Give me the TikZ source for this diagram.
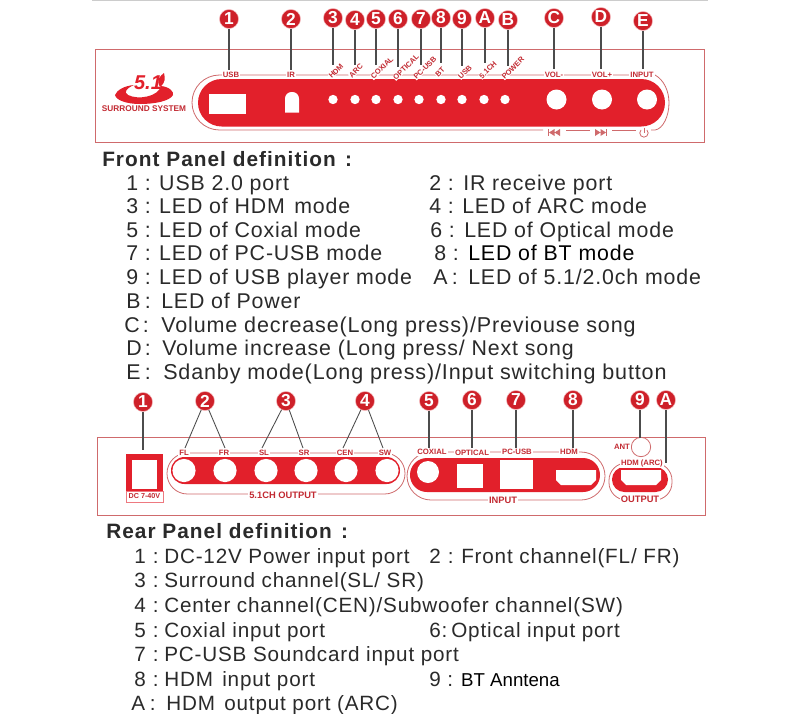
\documentclass[tikz,border=0pt]{standalone}
\usepackage{fontspec}
\setmainfont{Liberation Sans}[LetterSpace=4]
\newfontfamily\tight{Liberation Sans}
\newfontfamily\headf{Liberation Sans}[LetterSpace=5]
\definecolor{pred}{HTML}{E2202B}
\definecolor{bred}{HTML}{CE2029}
\definecolor{dred}{HTML}{C22A32}
\definecolor{lred}{HTML}{CF6A6C}
\definecolor{ttxt}{HTML}{2A2A2A}
\tikzset{
 x=0.75pt,y=-0.75pt,
 badge/.style={circle,fill=bred,draw=pred!30,line width=0.4pt,minimum size=14.3pt,inner sep=0pt,text=white,font=\tight\bfseries\fontsize{13}{13}\selectfont},
 lead/.style={draw=black!70,line width=0.8pt},
 frameline/.style={draw=lred,line width=0.6pt},
 plate/.style={fill=pred,draw=none},
 hole/.style={fill=white,draw=none},
 lab/.style={text=dred,font=\tight\bfseries\fontsize{5.8}{6}\selectfont,inner sep=0.8pt,fill=white},
 rlab/.style={lab,rotate=45,inner sep=0.2pt,font=\tight\bfseries\fontsize{5.6}{5}\selectfont},
 blab/.style={lab,inner sep=1.2pt,font=\tight\bfseries\fontsize{7}{7}\selectfont},
 body/.style={anchor=base west,inner sep=0pt,text=ttxt,font=\fontsize{16}{16}\selectfont},
 heading/.style={anchor=base west,inner sep=0pt,text=ttxt,font=\headf\bfseries\fontsize{15.6}{16}\selectfont},
 led/.style={circle,fill=white,minimum size=7pt,inner sep=0pt},
 knob/.style={circle,fill=white,minimum size=15pt,inner sep=0pt},
 jack/.style={circle,fill=white,minimum size=17.4pt,inner sep=0pt},
}
\newcommand\entry[5]{\node[body] (e#1x#2) at (#1,#2) {\makebox[\dimexpr 0.75pt*\numexpr#4-#1\relax\relax][l]{\makebox[14pt][l]{#3}:}#5};}
\begin{document}
\begin{tikzpicture}
\useasboundingbox (0,0) rectangle (800,714);
\fill[white] (0,0) rectangle (800,714);
\draw[black!20,line width=0.6pt] (92,0.5) -- (708,0.5);
% ---------- FRONT PANEL ----------
\draw[frameline] (95,49) rectangle (704,142);
\draw[frameline,rounded corners=20.6pt] (655,75) -- (192,75) -- (192,130) -- (543,130);
\draw[frameline] (566,130) -- (590,130);
\draw[frameline] (612,130) -- (636,130);
\draw[frameline] (651,130) -- (655,130) .. controls (663,129) and (669,116) .. (669,103) .. controls (669,91) and (664,80) .. (655,75);
\fill[plate,rounded corners=17.8pt] (198,79) rectangle (665,126.5);
% logo
\fill[pred] (115,95) .. controls (117,90) and (124,86) .. (134,85) .. controls (127,88) and (123,92) .. (128,95) .. controls (138,100) and (158,97) .. (161,86) .. controls (170,87) and (174,92) .. (173,95) .. controls (170,101) and (155,104) .. (140,104) .. controls (126,104) and (116,100) .. (115,95) -- cycle;
\node[text=pred,inner sep=0pt,font=\tight\bfseries\itshape\fontsize{15}{15}\selectfont] (logonum) at (148,83) {5.1};
\fill[pred] (160,87) .. controls (156,80) and (160,76) .. (164,73) .. controls (165,78) and (166,82) .. (160,87) -- cycle;
\node[text=dred,inner sep=0pt,font=\tight\bfseries\fontsize{6.2}{6}\selectfont] (logo) at (144,109) {SURROUND SYSTEM};
% ports
\node[hole,minimum width=27.7pt,minimum height=15pt,inner sep=0pt] (usbport) at (227.5,104) {};
\fill[hole,rounded corners=4.9pt] (285,112.5) [sharp corners] -- (285,99) [rounded corners=4.9pt] -- (285,92) -- (299,92) [sharp corners] -- (299,112.5) -- cycle;
\foreach \n/\x in {l3/333,l4/355,l5/376,l6/398,l7/419,l8/441,l9/462,lA/484,lB/505}{\node[led] (\n) at (\x,99.5) {};}
\foreach \n/\x in {kc/556.5,kd/602,ke/647}{\node[knob] (\n) at (\x,99.5) {};}
% labels
\node[lab] (tusb) at (231,75) {USB};
\node[lab] (tir) at (291,75) {IR};
\node[rlab] (thdm) at (336,71) {HDM};
\node[rlab] (tarc) at (356,71) {ARC};
\node[rlab] (tcox) at (382,68) {COXIAL};
\node[rlab] (topt) at (406,67) {OPTICAL};
\node[rlab] (tpc) at (425,68) {PC-USB};
\node[rlab] (tbt) at (440,72) {BT};
\node[rlab] (tu) at (465,72) {USB};
\node[rlab] (t51) at (488,70) {5.1CH};
\node[rlab] (tpow) at (513,68) {POWER};
\node[lab] (tvm) at (554,74.5) {VOL-};
\node[lab] (tvp) at (602,74.5) {VOL+};
\node[lab] (tin) at (642,74.5) {INPUT};
% badges and leads
\foreach \n/\x/\y/\t/\e in {f1/229/19/1/70,f2/291/19/2/70,f3/333/18/3/65,f4/355/20/4/65,f5/376/19/5/65,f6/398/19/6/67,f7/421/19/7/65,f8/441/18/8/63,f9/462/19/9/66,fA/485/18/A/63,fB/508/20/B/66,fC/554/18/C/69,fD/601/17/D/69,fE/643/21/E/69}{
 \node[badge] (\n) at (\x,\y) {\t};
 \coordinate (\n tip) at (\x,\e);
 \draw[lead] (\n) -- (\n tip);
}
% transport symbols
\fill[lred] (548,129) rectangle (549,136);
\fill[lred] (549,132.5) -- (554.5,129) -- (554.5,136) -- cycle (554.5,132.5) -- (560,129) -- (560,136) -- cycle;
\fill[lred] (595,129) -- (600.5,132.5) -- (595,136) -- cycle (600.5,129) -- (606,132.5) -- (600.5,136) -- cycle;
\fill[lred] (606,129) rectangle (607,136);
\draw[frameline] (644,127.5) -- (644,133);
\draw[frameline] (641,130) arc[start angle=-135,end angle=-405,radius=4.2];
% ---------- FRONT TEXT ----------
\node[heading] (fhead) at (102,166) {Front Panel definition\hspace{7pt}:};
\entry{126}{190}{1}{159}{USB 2.0 port}
\entry{429}{190}{2}{463}{IR receive port}
\entry{126}{213}{3}{159}{LED of HDM\hspace{7pt}mode}
\entry{429}{213}{4}{462}{LED of ARC mode}
\entry{126}{237}{5}{159}{LED of Coxial mode}
\entry{430}{237}{6}{464}{LED of Optical mode}
\entry{126}{260}{7}{159}{LED of PC-USB mode}
\entry{434}{260}{8}{468}{\color{black}LED of BT mode}
\entry{126}{284}{9}{159}{LED of USB player mode}
\entry{433}{284}{A}{468}{LED of 5.1/2.0ch mode}
\entry{126}{308}{B}{161}{LED of Power}
\entry{124}{332}{C}{161}{\fontsize{16.15}{16}\selectfont Volume decrease(Long press)/Previouse song}
\entry{126}{355}{D}{162}{Volume increase (Long press/ Next song}
\entry{126}{379}{E}{163}{\fontsize{16.15}{16}\selectfont Sdanby mode(Long press)/Input switching button}
% ---------- REAR PANEL ----------
\draw[frameline] (97,437) rectangle (705,515);
% DC jack
\draw[draw=pred!60,line width=0.5pt] (126,491) rectangle (163,502);
\fill[pred] (126,454) rectangle (163,491);
\fill[hole] (132,460) rectangle (157,489);
\node[text=dred,inner sep=0pt,font=\tight\bfseries\fontsize{5.4}{6}\selectfont] (tdc) at (144.5,496.5) {DC 7-40V};
% 5.1 output
\draw[frameline,rounded corners=15.3pt] (167,453) rectangle (405,494);
\fill[plate,rounded corners=10.1pt] (171,457) rectangle (400,484);
\foreach \n/\x in {jfl/184,jfr/225,jsl/266,jsr/306,jcen/346,jsw/387}{\node[jack] (\n) at (\x,470.5) {};}
\node[lab] (tfl) at (184,453) {FL};
\node[lab] (tfr) at (224,453) {FR};
\node[lab] (tsl) at (264,453) {SL};
\node[lab] (tsr) at (304,453) {SR};
\node[lab] (tcen) at (345,453) {CEN};
\node[lab] (tsw) at (385,453) {SW};
\node[blab] (t51o) at (283,495) {5.1CH OUTPUT};
% input
\draw[frameline,rounded corners=18pt] (407,452) rectangle (605,500);
\fill[plate,rounded corners=12.7pt] (410,458) rectangle (600,492);
\node[circle,fill=white,minimum size=16.5pt,inner sep=0pt] (jcox) at (428,472) {};
\fill[hole] (457,464) rectangle (483,488);
\fill[hole] (500,460) rectangle (533,489);
\fill[hole] (556,470) -- (596,470) -- (596,480) -- (591,485) -- (561,485) -- (556,480) -- cycle;
\node[lab] (tcoxr) at (432,452) {COXIAL};
\node[lab] (toptr) at (472,452.5) {OPTICAL};
\node[lab] (tpcr) at (517,452) {PC-USB};
\node[lab] (thdmr) at (569,452) {HDM};
\node[blab,inner sep=0.8pt] (tinp) at (503,500) {INPUT};
% antenna
\node[circle,draw=lred,line width=0.6pt,minimum size=14.5pt,inner sep=0pt] (ant) at (641,447) {};
\node[lab] (tant) at (622,447) {ANT};
% output
\draw[frameline,rounded corners=13pt] (609,463) rectangle (672,500);
\fill[plate,rounded corners=9.3pt] (612,467) rectangle (668,492);
\fill[hole] (621,470) -- (661,470) -- (661,480) -- (656,485) -- (626,485) -- (621,480) -- cycle;
\node[lab] (tarcr) at (642,463) {HDM (ARC)};
\node[blab,inner sep=0.8pt] (toutp) at (640,499) {OUTPUT};
% rear badges and leads
\foreach \n/\x/\y/\t/\e in {r1/143/402/1/450,r5/429/401/5/448,r6/472/400/6/448,r7/516/400/7/448,r8/573/400/8/448,r9/640/400/9/438,rA/666/400/A/463}{
 \node[badge] (\n) at (\x,\y) {\t};
 \coordinate (\n tip) at (\x,\e);
 \draw[lead] (\n) -- (\n tip);
}
\foreach \n/\x/\t/\a/\b in {r2/205/2/185/225,r3/286/3/262/303,r4/365/4/343/383}{
 \node[badge] (\n) at (\x,401) {\t};
 \coordinate (\n a) at (\a,448);
 \coordinate (\n b) at (\b,448);
 \draw[lead,line width=0.65pt] (\n a) -- (\n) -- (\n b);
}
% ---------- REAR TEXT ----------
\node[heading] (rhead) at (106,538) {Rear Panel definition\hspace{7pt}:};
\begin{scope}[body/.append style={font=\fontsize{15.5}{16}\selectfont}]
\entry{134}{563}{1}{164}{DC-12V Power input port}
\entry{429}{563}{2}{461}{Front channel(FL/ FR)}
\entry{134}{587}{3}{164}{Surround channel(SL/ SR)}
\entry{134}{612}{4}{164}{Center channel(CEN)/Subwoofer channel(SW)}
\entry{134}{637}{5}{164}{Coxial input port}
\node[body] (e6r) at (429,637) {6:\hspace{3pt}Optical input port};
\entry{134}{661}{7}{164}{PC-USB Soundcard input port}
\entry{134}{686}{8}{164}{HDM\hspace{7pt}input port}
\node[body] (e9r) at (429,686) {9\hspace{5pt}:\hspace{6pt}{\tight\color{black}\fontsize{14}{14}\selectfont BT Anntena}};
\entry{131}{710}{A}{166}{HDM\hspace{7pt}output port (ARC)}
\end{scope}
\end{tikzpicture}
\end{document}
